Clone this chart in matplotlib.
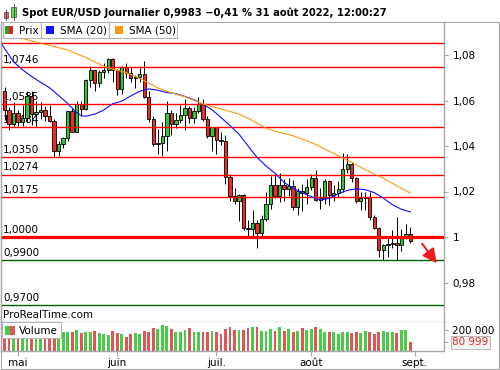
import numpy as np
import pandas as pd
import matplotlib
matplotlib.use("Agg")
import matplotlib.pyplot as plt
from matplotlib.patches import Rectangle, FancyArrowPatch
from matplotlib.ticker import FuncFormatter

# daily candles, 27 Apr -> 31 Aug 2022 (trading days)
dates = pd.bdate_range("2022-04-27", "2022-08-31")

opens = [1.0640, 1.0557, 1.0497, 1.0545, 1.0507, 1.0525, 1.0621, 1.0540, 1.0550, 1.0560,
         1.0530, 1.0512, 1.0380, 1.0410, 1.0436, 1.0553, 1.0463, 1.0585, 1.0563, 1.0689,
         1.0735, 1.0677, 1.0725, 1.0734, 1.0781, 1.0735, 1.0650, 1.0749, 1.0720, 1.0697,
         1.0705, 1.0715, 1.0615, 1.0517, 1.0409, 1.0414, 1.0446, 1.0547, 1.0497, 1.0514,
         1.0535, 1.0566, 1.0522, 1.0554, 1.0583, 1.0519, 1.0442, 1.0484, 1.0425, 1.0424,
         1.0265, 1.0180, 1.0160, 1.0185, 1.0040, 1.0035, 1.0060, 1.0018, 1.0080, 1.0143,
         1.0227, 1.0180, 1.0230, 1.0211, 1.0223, 1.0130, 1.0200, 1.0195, 1.0220, 1.0260,
         1.0163, 1.0170, 1.0245, 1.0184, 1.0195, 1.0211, 1.0297, 1.0320, 1.0260, 1.0160,
         1.0170, 1.0178, 1.0087, 1.0040, 0.9943, 0.9966, 0.9968, 0.9972, 0.9966, 1.0000,
         1.0015]
closes = [1.0557, 1.0497, 1.0545, 1.0507, 1.0525, 1.0621, 1.0540, 1.0550, 1.0560, 1.0530,
          1.0512, 1.0380, 1.0410, 1.0436, 1.0553, 1.0463, 1.0585, 1.0563, 1.0689, 1.0735,
          1.0677, 1.0725, 1.0734, 1.0781, 1.0735, 1.0650, 1.0749, 1.0720, 1.0697, 1.0705,
          1.0715, 1.0615, 1.0517, 1.0409, 1.0414, 1.0446, 1.0547, 1.0497, 1.0514, 1.0535,
          1.0566, 1.0522, 1.0554, 1.0583, 1.0519, 1.0442, 1.0484, 1.0425, 1.0424, 1.0265,
          1.0180, 1.0160, 1.0185, 1.0040, 1.0035, 1.0060, 1.0018, 1.0080, 1.0143, 1.0227,
          1.0180, 1.0230, 1.0211, 1.0223, 1.0130, 1.0200, 1.0195, 1.0220, 1.0260, 1.0163,
          1.0170, 1.0245, 1.0184, 1.0195, 1.0211, 1.0297, 1.0320, 1.0260, 1.0160, 1.0170,
          1.0178, 1.0087, 1.0040, 0.9943, 0.9966, 0.9968, 0.9972, 0.9966, 1.0000, 1.0015,
          0.9983]
highs = [1.0660, 1.0570, 1.0593, 1.0560, 1.0580, 1.0640, 1.0642, 1.0600, 1.0595, 1.0575,
         1.0580, 1.0520, 1.0420, 1.0440, 1.0555, 1.0565, 1.0600, 1.0600, 1.0695, 1.0750,
         1.0735, 1.0735, 1.0765, 1.0787, 1.0785, 1.0740, 1.0750, 1.0765, 1.0750, 1.0710,
         1.0750, 1.0775, 1.0640, 1.0530, 1.0475, 1.0505, 1.0600, 1.0560, 1.0545, 1.0580,
         1.0605, 1.0575, 1.0570, 1.0615, 1.0605, 1.0530, 1.0485, 1.0485, 1.0460, 1.0450,
         1.0275, 1.0215, 1.0190, 1.0190, 1.0075, 1.0120, 1.0075, 1.0095, 1.0200, 1.0270,
         1.0275, 1.0280, 1.0255, 1.0258, 1.0250, 1.0215, 1.0235, 1.0255, 1.0275, 1.0295,
         1.0215, 1.0255, 1.0250, 1.0230, 1.0248, 1.0370, 1.0365, 1.0330, 1.0265, 1.0200,
         1.0200, 1.0200, 1.0095, 1.0045, 0.9970, 1.0000, 1.0030, 1.0090, 1.0035, 1.0055,
         1.0045]
lows = [1.0515, 1.0470, 1.0490, 1.0490, 1.0490, 1.0505, 1.0493, 1.0485, 1.0520, 1.0510,
        1.0505, 1.0350, 1.0355, 1.0390, 1.0420, 1.0460, 1.0460, 1.0530, 1.0560, 1.0660,
        1.0640, 1.0660, 1.0700, 1.0720, 1.0680, 1.0625, 1.0630, 1.0700, 1.0680, 1.0655,
        1.0680, 1.0610, 1.0505, 1.0400, 1.0365, 1.0355, 1.0380, 1.0450, 1.0480, 1.0500,
        1.0470, 1.0500, 1.0500, 1.0545, 1.0510, 1.0435, 1.0380, 1.0365, 1.0405, 1.0235,
        1.0160, 1.0145, 1.0070, 1.0030, 0.9998, 0.9998, 0.9952, 1.0005, 1.0070, 1.0125,
        1.0170, 1.0155, 1.0160, 1.0180, 1.0120, 1.0095, 1.0115, 1.0145, 1.0205, 1.0160,
        1.0125, 1.0145, 1.0140, 1.0160, 1.0175, 1.0200, 1.0280, 1.0240, 1.0150, 1.0120,
        1.0120, 1.0075, 1.0035, 0.9910, 0.9900, 0.9910, 0.9950, 0.9900, 0.9940, 0.9990,
        0.9975]
volumes = [200000, 215000, 205000, 190000, 195000, 225000, 240000, 210000, 185000, 195000,
           190000, 215000, 205000, 187000, 187000, 181000, 200000, 171000, 181000, 181000,
           194000, 171000, 161000, 154000, 194000, 171000, 161000, 138000, 164000, 174000,
           167000, 194000, 187000, 220000, 213000, 253000, 246000, 210000, 187000, 187000,
           203000, 220000, 181000, 187000, 181000, 187000, 194000, 187000, 161000, 210000,
           230000, 203000, 203000, 203000, 220000, 230000, 230000, 197000, 197000, 210000,
           197000, 230000, 197000, 210000, 187000, 197000, 220000, 203000, 210000, 230000,
           210000, 187000, 181000, 187000, 164000, 187000, 187000, 177000, 181000, 171000,
           197000, 181000, 164000, 187000, 197000, 181000, 187000, 171000, 203000, 203000,
           80999]

# moving averages (candle index, value)
sma20_idx = [-0.5, 2, 4, 6, 8, 10, 12, 14, 16, 17, 18, 20, 22, 24, 26, 28, 30, 32, 34, 36,
             38, 40, 42, 44, 46, 48, 50, 52, 54, 56, 58, 60, 62, 64, 66, 68, 70, 72, 74, 76,
             78, 80, 82, 84, 86, 88, 90]
sma20_val = [1.0844, 1.0770, 1.0735, 1.0706, 1.0680, 1.0656, 1.0622, 1.0587, 1.0547, 1.0533,
             1.0531, 1.0540, 1.0558, 1.0586, 1.0597, 1.0620, 1.0641, 1.0651, 1.0645, 1.0635,
             1.0630, 1.0618, 1.0603, 1.0583, 1.0560, 1.0525, 1.0490, 1.0452, 1.0400, 1.0350,
             1.0312, 1.0280, 1.0240, 1.0214, 1.0195, 1.0178, 1.0162, 1.0170, 1.0190, 1.0205,
             1.0212, 1.0208, 1.0195, 1.0171, 1.0142, 1.0122, 1.0110]
sma50_idx = [3, 6, 9, 12, 14, 16, 18, 20, 22, 24, 26, 28, 30, 32, 34, 36, 38, 40, 42, 44,
             46, 48, 50, 52, 54, 56, 58, 60, 62, 64, 66, 68, 70, 72, 74, 76, 78, 80, 82, 84,
             86, 88, 90]
sma50_val = [1.0878, 1.0862, 1.0847, 1.0832, 1.0822, 1.0805, 1.0789, 1.0770, 1.0751, 1.0738,
             1.0728, 1.0715, 1.0697, 1.0677, 1.0656, 1.0640, 1.0628, 1.0617, 1.0600, 1.0585,
             1.0573, 1.0563, 1.0552, 1.0540, 1.0522, 1.0500, 1.0478, 1.0465, 1.0455, 1.0445,
             1.0430, 1.0416, 1.0397, 1.0377, 1.0357, 1.0338, 1.0318, 1.0296, 1.0277, 1.0258,
             1.0236, 1.0214, 1.0193]

red_levels = [1.0746, 1.0585, 1.0484, 1.0350, 1.0274, 1.0175]
green_levels = [0.9900, 0.9700]
month_labels = ["mai", "juin", "juil.", "août", "sept."]

GREEN = "#33c633"
RED = "#ee2a2a"
VGREEN = "#47cc47"
VRED = "#e05555"
GREY = "#a8a8a8"

W, H = 500, 370
fig = plt.figure(figsize=(5, 3.7), dpi=100)

def fx(px):
    return px / W

def fy(py):
    return 1 - py / H

ax = fig.add_axes([fx(1), fy(321.7), fx(444) - fx(1), (321.7 - 22) / H])
axv = fig.add_axes([fx(1), fy(350.7), fx(444) - fx(1), (350.7 - 321.7) / H])

x = np.arange(len(closes))
o = np.array(opens)
c = np.array(closes)
up = c >= o

# candles
ax.vlines(x, lows, highs, color="black", lw=0.7, zorder=3)
body = np.maximum(np.abs(c - o), 0.00005)
ax.bar(x, body, bottom=np.minimum(o, c), width=0.74,
       color=np.where(up, GREEN, RED), edgecolor="black", linewidth=0.6, zorder=4)

# support / resistance lines
ax.axhline(1.0852, color="#ff0000", lw=1.0, zorder=5)
for lv in red_levels:
    ax.axhline(lv, color="#ff0000", lw=1.0, zorder=5)
    ax.annotate(f"{lv:.4f}".replace(".", ","), xy=(0, lv), xycoords=("axes fraction", "data"),
                xytext=(1.6, 3.0), textcoords="offset points", fontsize=7.5, va="baseline", zorder=1)
ax.axhline(1.0, color="#ff0000", lw=2.3, zorder=5)
ax.annotate("1,0000", xy=(0, 1.0), xycoords=("axes fraction", "data"),
            xytext=(1.6, 3.0), textcoords="offset points", fontsize=7.5, va="baseline", zorder=1)
for lv in green_levels:
    ax.axhline(lv, color="#006000", lw=1.0, zorder=5)
    ax.annotate(f"{lv:.4f}".replace(".", ","), xy=(0, lv), xycoords=("axes fraction", "data"),
                xytext=(1.6, 3.0), textcoords="offset points", fontsize=7.5, va="baseline", zorder=1)

ax.plot(sma20_idx, sma20_val, color="#1010ff", lw=0.8, zorder=6)
ax.plot(sma50_idx, sma50_val, color="#ff9a10", lw=0.8, zorder=6)

xmin, xmax = (1 - 4.5) / 4.51, (444 - 4.5) / 4.51
ax.set_xlim(xmin, xmax)
ax.set_ylim(1 - (321.7 - 237) / 2275, 1 + (237 - 22) / 2275)
ax.yaxis.tick_right()
ax.set_yticks([0.98, 1.00, 1.02, 1.04, 1.06, 1.08])
ax.yaxis.set_major_formatter(FuncFormatter(
    lambda v, p: f"{v:.2f}".rstrip("0").rstrip(".").replace(".", ",")))
ax.tick_params(axis="y", length=3, color=GREY, labelsize=7.5, pad=3)
ax.set_xticks([])
ax.spines["top"].set_visible(False)
for s in ["left", "right", "bottom"]:
    ax.spines[s].set_color(GREY)
    ax.spines[s].set_linewidth(1.0)

# volume
axv.bar(x, volumes, width=0.62, color=np.where(up, VGREEN, VRED), zorder=2)
axv.set_xlim(xmin, xmax)
axv.set_ylim(0, 286000)
month_first = [i for i in range(1, len(dates)) if dates[i].month != dates[i - 1].month]
month_first.append(len(dates))
axv.set_xticks(month_first)
axv.set_xticklabels(month_labels)
axv.tick_params(axis="x", length=3.5, color=GREY, labelsize=7.5, pad=2)
axv.yaxis.tick_right()
axv.set_yticks([80999, 200000])
axv.set_yticklabels(["", "200 000"])
axv.tick_params(axis="y", length=3, color=GREY, labelsize=7.5, pad=3)
axv.yaxis.get_major_ticks()[0].tick2line.set_color("#ff3030")
axv.annotate("80 999", xy=(1, 80999), xycoords=("axes fraction", "data"),
             xytext=(6, 0), textcoords="offset points", fontsize=7.5, color="#e03030",
             va="center", bbox=dict(boxstyle="square,pad=0.15", fc="#f2f2f2", ec="#b8b8b8", lw=0.7),
             annotation_clip=False)
axv.spines["top"].set_visible(False)
for s in ["left", "right", "bottom"]:
    axv.spines[s].set_color(GREY)
    axv.spines[s].set_linewidth(1.0)

# overlay in pixel units for header, legend boxes and arrow
ov = fig.add_axes([0, 0, 1, 1], zorder=10)
ov.set_xlim(0, W)
ov.set_ylim(H, 0)
ov.axis("off")
ov.patch.set_alpha(0)

ov.plot([5.5, 5.5], [9.5, 19.5], color="#444444", lw=0.6)
ov.add_patch(Rectangle((3.5, 12), 4, 5.5, fc="#e86060", ec="#444444", lw=0.5))
ov.plot([13.5, 13.5], [4, 19.5], color="#444444", lw=0.6)
ov.add_patch(Rectangle((11, 7), 5, 10, fc="#55dd55", ec="#444444", lw=0.5))
ov.text(22, 13, "Spot EUR/USD Journalier 0,9983 \u22120,41 % 31 août 2022, 12:00:27",
        fontsize=7.2, fontweight="bold", va="center", ha="left")

boxes = [(2.7, 38.0, "Prix", None), (40.7, 68.6, "SMA (20)", "#1010ff"),
         (109.3, 67.7, "SMA (50)", "#ff9a10")]
for bx, bw, label, col in boxes:
    ov.add_patch(Rectangle((bx, 21.7), bw, 16.6, fc="white", ec="#b4b4b4", lw=0.8))
    if col is None:
        ov.add_patch(Rectangle((bx + 2.5, 26), 4, 8, fc="#22a822", ec="none"))
        ov.add_patch(Rectangle((bx + 6.5, 26), 4, 8, fc="#dd2222", ec="none"))
        tx = bx + 16
    else:
        ov.add_patch(Rectangle((bx + 5.5, 26), 8, 8, fc=col, ec="none"))
        tx = bx + 19.5
    ov.text(tx, 30.5, label, fontsize=7.5, va="center", ha="left")

ov.add_patch(Rectangle((1.7, 321.7), 59.3, 16.6, fc="white", ec="#b4b4b4", lw=0.8))
ov.add_patch(Rectangle((5, 325.5), 5, 9, fc=VGREEN, ec="none"))
ov.add_patch(Rectangle((10, 325.5), 5, 9, fc=VRED, ec="none"))
ov.text(19, 330.5, "Volume", fontsize=7.5, va="center", ha="left")

ov.text(3, 315.5, "ProRealTime.com", fontsize=7.5, va="center", ha="left")

ov.add_patch(FancyArrowPatch((420.5, 241.5), (438.5, 265.5), arrowstyle="-|>,head_length=0.85,head_width=0.42",
                             mutation_scale=10, color="#ee1c1c", lw=1.5))

fig.add_artist(Rectangle((fx(0.5), fy(369.3)), fx(499.3) - fx(0.5), (369.3 - 22) / H,
                         transform=fig.transFigure, fill=False, ec=GREY, lw=0.8))

fig.savefig("out.png", dpi=100)
